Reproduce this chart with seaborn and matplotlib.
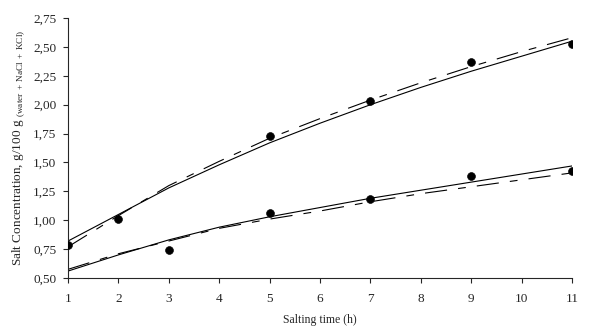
import numpy as np
import pandas as pd
import matplotlib.pyplot as plt
import seaborn as sns
from matplotlib.ticker import FuncFormatter

sns.set_style('ticks')
plt.rcParams['font.family'] = ['Liberation Serif', 'DejaVu Serif']
plt.rcParams['mathtext.fontset'] = 'custom'
plt.rcParams['mathtext.rm'] = 'Liberation Serif'

# measured points
hours_hi = [1, 2, 5, 7, 9, 11]
conc_hi = [0.79, 1.01, 1.73, 2.03, 2.37, 2.53]
hours_lo = [3, 5, 7, 9, 11]
conc_lo = [0.74, 1.06, 1.18, 1.38, 1.43]

# model curves
t_model = list(range(1, 12))
hi_solid = [0.82, 1.05, 1.28, 1.48, 1.67, 1.84, 2.00, 2.15, 2.29, 2.42, 2.55]
hi_dash = [0.77, 1.04, 1.30, 1.51, 1.71, 1.88, 2.04, 2.19, 2.33, 2.46, 2.58]
lo_solid = [0.56, 0.70, 0.83, 0.94, 1.03, 1.11, 1.19, 1.26, 1.33, 1.40, 1.47]
lo_dash = [0.575, 0.71, 0.82, 0.93, 1.01, 1.08, 1.16, 1.23, 1.29, 1.35, 1.41]

fig = plt.figure(figsize=(5.94, 3.29), dpi=100)
ax = fig.add_axes([0.1145, 0.155, 0.8485, 0.79])

dash_style = (0, (20, 10, 7, 10))
for vals, ls in [(hi_solid, '-'), (hi_dash, dash_style), (lo_solid, '-'), (lo_dash, dash_style)]:
    sns.lineplot(x=t_model, y=vals, ax=ax, color='black', linewidth=0.8, linestyle=ls)

pts = pd.DataFrame({'h': hours_hi + hours_lo, 'c': conc_hi + conc_lo})
sns.scatterplot(data=pts, x='h', y='c', ax=ax, color='black', s=32, edgecolor='black', zorder=5)

ax.set_xlim(1, 11)
ax.set_ylim(0.5, 2.75)
ax.set_xticks(range(1, 12))
ax.set_yticks(np.arange(0.5, 2.76, 0.25))
ax.yaxis.set_major_formatter(FuncFormatter(lambda v, p: f'{v:.2f}'.replace('.', ',')))
ax.tick_params(direction='out', length=3.5, width=0.8, labelsize=9.5, pad=5)
ax.tick_params(axis='x', pad=7)
for s in ['left', 'bottom']:
    ax.spines[s].set_linewidth(0.8)
sns.despine(ax=ax)

ax.set_xlabel('Salting time (h)', fontsize=8.5, labelpad=7)
ax.set_ylabel(r'Salt Concentration, g/100 g $_{\mathregular{(water\,+\,NaCl\,+\,KCl)}}$', fontsize=9.5, labelpad=4)

fig.savefig('out.png', dpi=100)
